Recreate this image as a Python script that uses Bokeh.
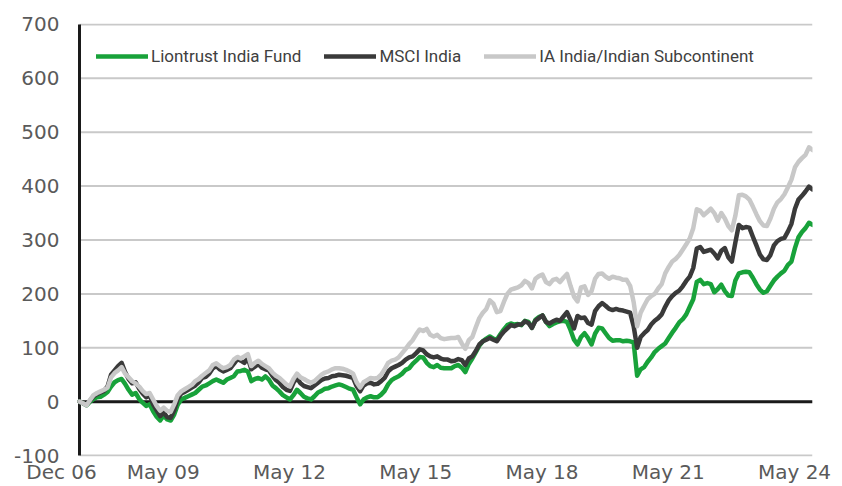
from bokeh.plotting import figure
from bokeh.models import Range1d, FixedTicker, Legend, LegendItem, LinearAxis
from bokeh.embed import file_html
from bokeh.resources import INLINE

# Month index: 0 = Dec 06 ... 209 = May 24 (cumulative % performance)
months = list(range(210))

liontrust = [
    0, -3, -7, 0, 5, 8, 9, 13, 18, 28,
    36, 40, 42, 33, 22, 13, 16, 5, -2, -8,
    -5, -18, -28, -35, -26, -33, -35, -24, -6, 4,
    7, 10, 13, 16, 22, 28, 30, 34, 38, 41,
    38, 35, 41, 44, 47, 56, 57, 59, 56, 38,
    42, 44, 41, 47, 41, 30, 25, 19, 12, 8,
    4, 12, 22, 16, 9, 6, 4, 10, 17, 20,
    24, 25, 28, 30, 32, 30, 27, 24, 22, 8,
    -5, 4, 8, 10, 8, 8, 13, 20, 32, 40,
    44, 47, 52, 59, 62, 70, 76, 83, 82, 72,
    66, 64, 68, 63, 62, 62, 62, 66, 68, 63,
    55, 70, 80, 92, 104, 112, 117, 121, 117, 115,
    125, 134, 142, 145, 143, 144, 142, 150, 148, 137,
    152, 157, 160, 148, 140, 144, 147, 149, 150, 148,
    133, 115, 106, 120, 127, 118, 106, 126, 137, 136,
    127, 118, 113, 114, 114, 112, 113, 112, 110, 48,
    60, 64, 74, 82, 92, 98, 103, 108, 118, 128,
    137, 147, 153, 162, 176, 190, 222, 226, 218, 220,
    218, 203, 209, 217, 205, 197, 196, 225, 238, 240,
    241, 240, 230, 218, 208, 202, 205, 215, 225, 232,
    238, 243, 254, 260, 285, 305, 315, 322, 332, 328,
]

msci_india = [
    0, -3, -6, 2, 10, 14, 17, 20, 28, 50,
    58, 66, 72, 55, 42, 34, 36, 24, 15, 8,
    12, -5, -16, -27, -20, -29, -30, -16, 5, 15,
    18, 22, 26, 30, 36, 44, 46, 52, 62, 66,
    60, 56, 59, 62, 70, 79, 76, 72, 81, 60,
    65, 70, 63, 60, 58, 48, 40, 35, 27, 22,
    20, 35, 44, 34, 29, 27, 25, 30, 35, 40,
    43, 44, 47, 48, 50, 49, 48, 46, 44, 29,
    19, 30, 34, 35, 32, 33, 38, 44, 56, 62,
    65, 68, 72, 78, 82, 84, 90, 97, 95, 88,
    84, 82, 84, 80, 78, 78, 75, 76, 79, 77,
    68, 80, 84, 94, 106, 112, 115, 118, 115, 112,
    122, 130, 136, 142, 140, 143, 143, 149, 146, 137,
    150, 155, 160, 148, 145, 149, 152, 150, 158, 166,
    152, 136, 159, 155, 156, 146, 143, 168, 177, 183,
    178, 172, 170, 172, 170, 169, 167, 165, 140, 100,
    120, 127, 133, 143, 150, 155, 162, 176, 188, 196,
    202, 206, 214, 224, 232, 248, 284, 287, 278, 280,
    282, 275, 266, 280, 285, 268, 260, 295, 328, 322,
    324, 323, 306, 290, 273, 264, 263, 272, 290, 298,
    302, 304, 316, 330, 358, 375, 382, 390, 399, 394,
]

ia_india = [
    0, -3, -7, 3, 12, 16, 19, 22, 26, 45,
    53, 58, 64, 52, 45, 38, 34, 28, 20, 14,
    16, 4, -8, -17, -11, -17, -19, -5, 12, 19,
    23, 27, 31, 38, 42, 48, 53, 58, 68, 71,
    66, 62, 64, 68, 78, 83, 80, 84, 88, 66,
    72, 76, 70, 66, 62, 54, 48, 44, 38, 32,
    28, 42, 52, 45, 42, 38, 35, 38, 44, 50,
    54, 56, 60, 62, 62, 61, 59, 56, 52, 36,
    26, 36, 40, 44, 43, 44, 50, 60, 72, 76,
    78, 82, 90, 98, 107, 114, 125, 134, 131, 135,
    124, 121, 124, 118, 116, 117, 118, 118, 120, 108,
    98, 114, 120, 138, 155, 165, 172, 188, 182, 166,
    168, 185, 200, 208, 210, 212, 216, 224, 220, 210,
    228, 233, 236, 222, 218, 226, 228, 222, 230, 237,
    215, 195, 186, 212, 214, 198, 205, 228, 237, 238,
    232, 228, 232, 230, 229, 226, 226, 215, 185, 140,
    165, 178, 190, 196, 200, 210, 218, 238, 250, 260,
    265, 272, 282, 292, 303, 322, 357, 354, 346, 352,
    358, 350, 336, 350, 340, 326, 318, 345, 383, 384,
    381, 375, 362, 348, 335, 327, 326, 340, 358, 370,
    376, 385, 398, 412, 435, 445, 452, 458, 472, 467,
]

series_names = ["Liontrust India Fund", "MSCI India", "IA India/Indian Subcontinent"]
x_tick_months = [0, 29, 65, 101, 137, 173, 209]
x_tick_labels = ["Dec 06", "May 09", "May 12", "May 15", "May 18", "May 21", "May 24"]
y_ticks = [-100, 0, 100, 200, 300, 400, 500, 600, 700]

GREEN = "#18a23a"
DARK = "#3a3a3a"
LIGHT = "#c8c8c8"
GRID = "#c9c9c9"
AXIS = "#1a1a1a"
TXT = "#5a5a5a"

# ---- layout (pixels) ----
W, H = 842, 486
FRAME_L, DATA_L, FRAME_R = 59, 79, 812      # frame starts a little left of the data axis
FRAME_T, FRAME_B = 23, 457
Y_PAD_PX = 1
LABEL_SHIFT_PX = 18                          # date labels sit slightly left of their month
LEGEND_CY = 57

ppm = (FRAME_R - DATA_L) / (months[-1] - months[0])
x_start = months[0] - (DATA_L - FRAME_L) / ppm
ppu = (FRAME_B - FRAME_T - 2 * Y_PAD_PX) / (y_ticks[-1] - y_ticks[0])
y_pad = Y_PAD_PX / ppu
shift = LABEL_SHIFT_PX / ppm

p = figure(width=W, height=H, output_backend="svg", toolbar_location=None,
           x_range=Range1d(x_start, months[-1]),
           y_range=Range1d(y_ticks[0] - y_pad, y_ticks[-1] + y_pad),
           x_axis_location=None,
           min_border_left=FRAME_L, min_border_right=W - FRAME_R,
           min_border_top=FRAME_T, min_border_bottom=H - FRAME_B)
p.outline_line_color = None
p.background_fill_color = "white"
p.xgrid.visible = False
p.ygrid.visible = False

# y axis (labels only; the black axis line is drawn at the first month)
p.yaxis.ticker = FixedTicker(ticks=y_ticks)
p.yaxis.major_label_overrides = {t: str(t) for t in y_ticks}
p.yaxis.axis_line_color = None
p.yaxis.major_tick_line_color = None
p.yaxis.minor_tick_line_color = None
p.yaxis.major_tick_out = 0
p.yaxis.major_tick_in = 0
p.yaxis.major_label_standoff = 0
p.yaxis.major_label_text_font = "DejaVu Sans"
p.yaxis.major_label_text_font_size = "20px"
p.yaxis.major_label_text_color = TXT

# date axis on a range offset by a few pixels
p.extra_x_ranges = {"labels": Range1d(x_start + shift, months[-1] + shift)}
xax = LinearAxis(x_range_name="labels", ticker=FixedTicker(ticks=x_tick_months),
                 major_label_overrides=dict(zip(x_tick_months, x_tick_labels)),
                 axis_line_color=None, major_tick_line_color=None, minor_tick_line_color=None,
                 major_tick_out=0, major_tick_in=0, major_label_standoff=3,
                 major_label_text_font="DejaVu Sans", major_label_text_font_size="20px",
                 major_label_text_color=TXT)
p.add_layout(xax, "below")

# horizontal gridlines between first and last month
n = len(y_ticks)
p.segment(x0=[months[0]] * n, x1=[months[-1]] * n, y0=y_ticks, y1=y_ticks,
          line_color=GRID, line_width=2)
# zero line and vertical axis line
p.segment(x0=[months[0]], x1=[months[-1]], y0=[0], y1=[0], line_color=AXIS, line_width=3)
p.segment(x0=[months[0]], x1=[months[0]], y0=[y_ticks[0]], y1=[y_ticks[-1]],
          line_color=AXIS, line_width=3)

r_green = p.line(months, liontrust, line_color=GREEN, line_width=4.5, line_cap="round", line_join="round")
r_dark = p.line(months, msci_india, line_color=DARK, line_width=4.5, line_cap="round", line_join="round")
r_light = p.line(months, ia_india, line_color=LIGHT, line_width=4.5, line_cap="round", line_join="round")

legend = Legend(items=[LegendItem(label=series_names[0], renderers=[r_green]),
                       LegendItem(label=series_names[1], renderers=[r_dark]),
                       LegendItem(label=series_names[2], renderers=[r_light])],
                orientation="horizontal", location=(37, FRAME_B - LEGEND_CY - 10),
                glyph_width=52, glyph_height=20, label_height=20, label_standoff=3,
                spacing=23, padding=0, margin=0,
                background_fill_alpha=0, border_line_alpha=0,
                label_text_font="Roboto", label_text_font_size="17px",
                label_text_color="#404040")
p.add_layout(legend)

open("out.html", "w").write(file_html(p, INLINE))
